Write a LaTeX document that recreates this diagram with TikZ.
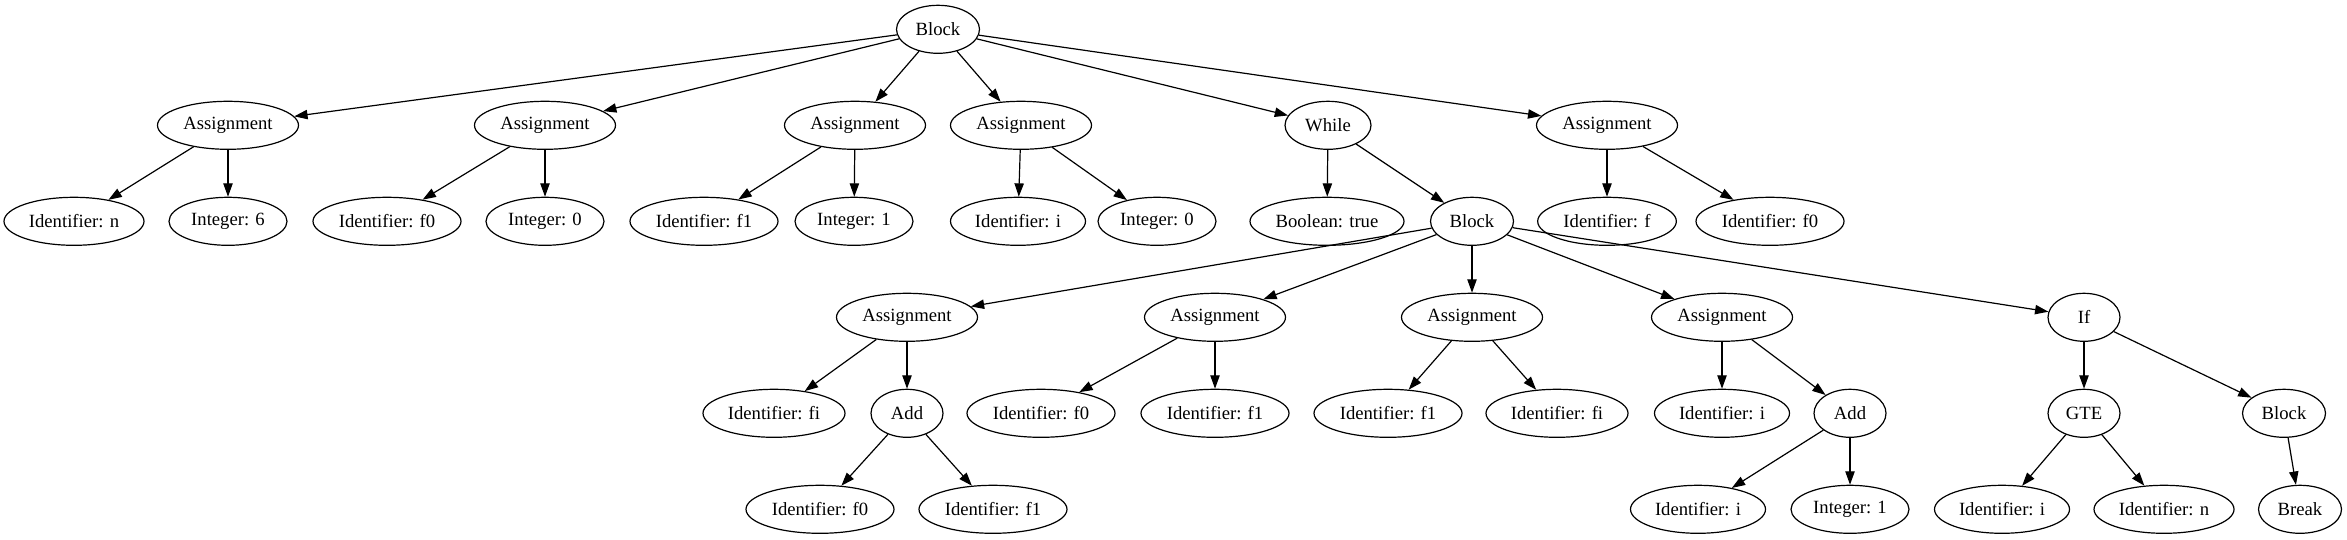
\documentclass[tikz,border=0pt]{standalone}
\usepackage{fontspec}
\setmainfont{Liberation Serif}
\usetikzlibrary{shapes.geometric,arrows.meta}
\begin{document}
\begin{tikzpicture}[x=0.75pt,y=-0.75pt,
  nd/.style={draw, ellipse, line width=0.9pt, inner sep=0pt, minimum height=36pt, font=\fontsize{14pt}{16pt}\selectfont},
  wA/.style={nd, minimum width=105.75pt},
  wIn/.style={nd, minimum width=105pt},
  wInt/.style={nd, minimum width=88.5pt},
  wIf/.style={nd, minimum width=111pt},
  wIi/.style={nd, minimum width=101.25pt},
  wIff/.style={nd, minimum width=104pt},
  wIfi/.style={nd, minimum width=106.5pt},
  wBool/.style={nd, minimum width=115.5pt},
  wBlk/.style={nd, minimum width=62.25pt},
  wWh/.style={nd, minimum width=64.5pt},
  wS/.style={nd, minimum width=54pt},
  edge/.style={line width=0.9pt, -{Triangle[length=10pt,width=7pt]}}]
\fill[white] (0,0) rectangle (2347,539);
\useasboundingbox (0,0) rectangle (2347,539);
% row 0
\node[wBlk] (b0) at (938,29.3) {Block};
% row 1
\node[wA] (a1) at (228,125.3) {Assignment};
\node[wA] (a2) at (545,125.3) {Assignment};
\node[wA] (a3) at (855,125.3) {Assignment};
\node[wA] (a4) at (1021,125.3) {Assignment};
\node[wWh] (w) at (1328,125.3) {While};
\node[wA] (a6) at (1607,125.3) {Assignment};
% row 2
\node[wIn] (in) at (74,221.3) {Identifier: n};
\node[wInt] (i6) at (228,221.3) {Integer: 6};
\node[wIf] (if0) at (387,221.3) {Identifier: f0};
\node[wInt] (i0) at (545,221.3) {Integer: 0};
\node[wIf] (if1) at (704,221.3) {Identifier: f1};
\node[wInt] (i1) at (854,221.3) {Integer: 1};
\node[wIi] (ii) at (1018,221.3) {Identifier: i};
\node[wInt] (i0b) at (1157,221.3) {Integer: 0};
\node[wBool] (bt) at (1327,221.3) {Boolean: true};
\node[wBlk] (b1) at (1472,221.3) {Block};
\node[wIff] (idf) at (1607,221.3) {Identifier: f};
\node[wIf] (idf0) at (1770,221.3) {Identifier: f0};
% row 3
\node[wA] (c1) at (907,317.3) {Assignment};
\node[wA] (c2) at (1215,317.3) {Assignment};
\node[wA] (c3) at (1472,317.3) {Assignment};
\node[wA] (c4) at (1722,317.3) {Assignment};
\node[wS] (iff) at (2084,317.3) {If};
% row 4
\node[wIfi] (d1) at (774,413.3) {Identifier: fi};
\node[wS] (add1) at (907,413.3) {Add};
\node[wIf] (d2) at (1041,413.3) {Identifier: f0};
\node[wIf] (d3) at (1215,413.3) {Identifier: f1};
\node[wIf] (d4) at (1388,413.3) {Identifier: f1};
\node[wIfi] (d5) at (1557,413.3) {Identifier: fi};
\node[wIi] (d6) at (1722,413.3) {Identifier: i};
\node[wS] (add2) at (1850,413.3) {Add};
\node[wS] (gte) at (2084,413.3) {GTE};
\node[wBlk] (b2) at (2284,413.3) {Block};
% row 5
\node[wIf] (e1) at (820,509.3) {Identifier: f0};
\node[wIf] (e2) at (993,509.3) {Identifier: f1};
\node[wIi] (e3) at (1698,509.3) {Identifier: i};
\node[wInt] (e4) at (1850,509.3) {Integer: 1};
\node[wIi] (e5) at (2002,509.3) {Identifier: i};
\node[wIn] (e6) at (2164,509.3) {Identifier: n};
\node[wBlk] (brk) at (2300,509.3) {Break};
% edges
\foreach \t in {a1,a2,a3,a4,w,a6} \draw[edge] (b0) -- (\t);
\draw[edge] (a1) -- (in);
\draw[edge] (a1) -- (i6);
\draw[edge] (a2) -- (if0);
\draw[edge] (a2) -- (i0);
\draw[edge] (a3) -- (if1);
\draw[edge] (a3) -- (i1);
\draw[edge] (a4) -- (ii);
\draw[edge] (a4) -- (i0b);
\draw[edge] (w) -- (bt);
\draw[edge] (w) -- (b1);
\draw[edge] (a6) -- (idf);
\draw[edge] (a6) -- (idf0);
\foreach \t in {c1,c2,c3,c4,iff} \draw[edge] (b1) -- (\t);
\draw[edge] (c1) -- (d1);
\draw[edge] (c1) -- (add1);
\draw[edge] (add1) -- (e1);
\draw[edge] (add1) -- (e2);
\draw[edge] (c2) -- (d2);
\draw[edge] (c2) -- (d3);
\draw[edge] (c3) -- (d4);
\draw[edge] (c3) -- (d5);
\draw[edge] (c4) -- (d6);
\draw[edge] (c4) -- (add2);
\draw[edge] (add2) -- (e3);
\draw[edge] (add2) -- (e4);
\draw[edge] (iff) -- (gte);
\draw[edge] (iff) -- (b2);
\draw[edge] (gte) -- (e5);
\draw[edge] (gte) -- (e6);
\draw[edge] (b2) -- (brk);
\end{tikzpicture}
\end{document}
